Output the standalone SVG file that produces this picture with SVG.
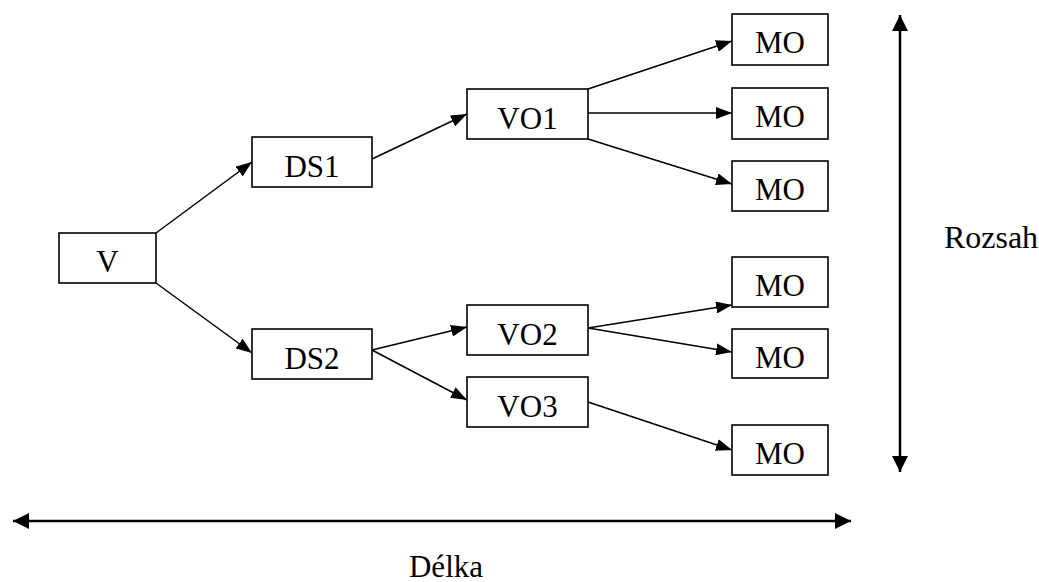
<svg xmlns="http://www.w3.org/2000/svg" width="1039" height="582" viewBox="0 0 1039 582">
  <style>
    .box { fill: #fff; stroke: #000; stroke-width: 1.6; }
    .lbl { font-family: 'Liberation Serif', Tinos, 'Times New Roman', 'DejaVu Serif', serif; font-size: 31px; fill: #000; text-anchor: middle; }
    .edge { stroke: #000; stroke-width: 1.5; fill: none; marker-end: url(#head); }
    .axis { stroke: #000; stroke-width: 2.5; fill: none; marker-start: url(#bighead); marker-end: url(#bighead); }
  </style>
  <defs>
    <marker id="head" markerUnits="userSpaceOnUse" markerWidth="16" markerHeight="12" refX="16" refY="6" orient="auto">
      <path d="M0,0 L16,6 L0,12 z" fill="#000"/>
    </marker>
    <marker id="bighead" markerUnits="userSpaceOnUse" markerWidth="16" markerHeight="16" refX="16" refY="8" orient="auto-start-reverse">
      <path d="M0,0 L16,8 L0,16 z" fill="#000"/>
    </marker>
  </defs>
  <rect width="1039" height="582" fill="#fff"/>

  <!-- connectors -->
  <g id="connectors">
    <line class="edge" x1="156" y1="233" x2="252" y2="162"/>
    <line class="edge" x1="156" y1="283" x2="252" y2="353"/>
    <line class="edge" x1="372" y1="159" x2="467" y2="114"/>
    <line class="edge" x1="588" y1="89" x2="732" y2="41"/>
    <line class="edge" x1="588" y1="113" x2="732" y2="113"/>
    <line class="edge" x1="588" y1="139" x2="732" y2="184"/>
    <line class="edge" x1="372" y1="350" x2="467" y2="327"/>
    <line class="edge" x1="372" y1="350" x2="467" y2="400"/>
    <line class="edge" x1="588" y1="328" x2="732" y2="305"/>
    <line class="edge" x1="588" y1="328" x2="732" y2="352"/>
    <line class="edge" x1="588" y1="402" x2="732" y2="450"/>
  </g>

  <!-- nodes -->
  <g id="node-V"><rect class="box" x="59" y="233" width="97" height="50"/><text class="lbl" x="107.5" y="272">V</text></g>
  <g id="node-DS1"><rect class="box" x="252" y="137" width="120" height="50"/><text class="lbl" x="312" y="176.5">DS1</text></g>
  <g id="node-DS2"><rect class="box" x="252" y="329" width="120" height="50"/><text class="lbl" x="312" y="368.5">DS2</text></g>
  <g id="node-VO1"><rect class="box" x="467" y="89" width="121" height="50"/><text class="lbl" x="527.5" y="128.5">VO1</text></g>
  <g id="node-VO2"><rect class="box" x="467" y="305" width="121" height="50"/><text class="lbl" x="527.5" y="344.5">VO2</text></g>
  <g id="node-VO3"><rect class="box" x="467" y="377" width="121" height="50"/><text class="lbl" x="527.5" y="416.5">VO3</text></g>
  <g id="node-MO1"><rect class="box" x="732" y="14" width="96" height="51"/><text class="lbl" x="780" y="53">MO</text></g>
  <g id="node-MO2"><rect class="box" x="732" y="88" width="96" height="51"/><text class="lbl" x="780" y="127">MO</text></g>
  <g id="node-MO3"><rect class="box" x="732" y="161" width="96" height="50"/><text class="lbl" x="780" y="200">MO</text></g>
  <g id="node-MO4"><rect class="box" x="732" y="257" width="96" height="50"/><text class="lbl" x="780" y="296">MO</text></g>
  <g id="node-MO5"><rect class="box" x="732" y="329" width="96" height="49"/><text class="lbl" x="780" y="367.5">MO</text></g>
  <g id="node-MO6"><rect class="box" x="732" y="425" width="96" height="50"/><text class="lbl" x="780" y="464">MO</text></g>

  <!-- dimension axes -->
  <g id="axes">
    <line class="axis" x1="900" y1="15" x2="900" y2="472"/>
    <line class="axis" x1="13" y1="521" x2="851" y2="521"/>
    <text class="lbl" x="991" y="248" style="font-size:32px">Rozsah</text>
    <text class="lbl" x="446" y="577">Délka</text>
  </g>
</svg>
